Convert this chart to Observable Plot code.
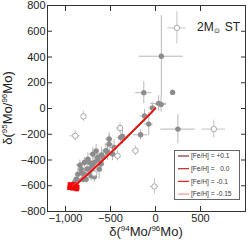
<!DOCTYPE html>
<html><head><meta charset="utf-8">
<script src="https://cdn.jsdelivr.net/npm/d3@7"></script>
<script src="https://cdn.jsdelivr.net/npm/@observablehq/plot@0.6"></script>
<style>body{margin:0;background:#fff;} svg{display:block;}</style>
</head><body><div id="chart"></div>
<script>
// grey filled points (delta94, delta95) with errors
const filledX    = [65, -130, 190, 35, 62, -34, -122, -75, 249, -166, -367, -386, -515, -460, -551, -642, -697, -752, -790, -680, -606, -826, -735, -862, -790, -697, -881, -807, -900, -532, -477, -515, -626, -771, -716, -840, -730, -660, -600, -700, -760, -820, -860, -640, -580, -680];
const filledY    = [406, 123, 125, 40, 32, 4, -58, -121, -160, -204, -217, -225, -277, -303, -328, -380, -354, -393, -419, -419, -432, -471, -471, -510, -510, -497, -549, -549, -575, -342, -354, -237, -471, -549, -523, -440, -420, -330, -360, -450, -470, -500, -560, -400, -380, -530];
const filledXErr = [245, 90, 20, 90, 60, 40, 50, 50, 190, 80, 40, 40, 50, 40, 50, 50, 40, 40, 40, 50, 40, 40, 40, 30, 40, 40, 30, 30, 30, 40, 40, 40, 40, 30, 40, 40, 40, 40, 50, 40, 40, 30, 30, 40, 40, 40];
const filledYErr = [315, 85, 20, 60, 60, 40, 50, 90, 115, 40, 60, 40, 70, 60, 50, 50, 50, 50, 40, 60, 60, 40, 50, 40, 40, 50, 30, 30, 30, 60, 50, 50, 80, 30, 40, 40, 40, 50, 60, 40, 40, 40, 30, 50, 60, 40];
// open points
const openX    = [238, 648, -801, -892, -394, -221, -422, -12, -680];
const openY    = [626, -160, -61, -212, -152, -328, -367, -606, -505];
const openXErr = [100, 130, 20, 60, 40, 40, 40, 50, 30];
const openYErr = [125, 70, 40, 40, 40, 40, 40, 60, 30];
// red squares
const sqX = [-930, -900, -880, -950, -920, -870, -940, -900, -910, -955, -875];
const sqY = [-600, -610, -595, -590, -620, -612, -610, -590, -605, -615, -625];
// model lines
const lineX = [-920, -880, -820, -750, -650, -550, -450, -350, -250, -150, -50, 0];
const fehLabels = ["[Fe/H] = +0.1", "[Fe/H] =\u00a0\u00a0\u00a00.0", "[Fe/H] = -0.1", "[Fe/H] = -0.15"];
const fehColors = ["#8b3030", "#b52a2a", "#ee1c1c", "#f39090"];
const lineYp01  = [-605, -588, -552, -508, -444, -378, -312, -245, -175, -105, -35, 2];
const lineY00   = [-607, -590, -554, -510, -446, -380, -313, -246, -176, -106, -36, 1];
const lineYm01  = [-603, -586, -550, -506, -442, -376, -310, -243, -173, -103, -33, 4];
const lineYm015 = [-600, -582, -546, -502, -438, -372, -306, -239, -170, -100, -30, 6];
const xTicks = [-1000, -500, 0, 500];
const yTicks = [-800, -600, -400, -200, 0, 200, 400, 600, 800];

const filled = filledX.map((x, i) => ({x, y: filledY[i], ex: filledXErr[i], ey: filledYErr[i]}));
const open = openX.map((x, i) => ({x, y: openY[i], ex: openXErr[i], ey: openYErr[i]}));
const squares = sqX.map((x, i) => ({x, y: sqY[i]}));
const seriesY = [lineYp01, lineY00, lineYm015, lineYm01];
const seriesIdx = [0, 1, 3, 2];
const lines = seriesY.flatMap((ys, k) => lineX.map((x, i) => ({x, y: ys[i], s: fehLabels[seriesIdx[k]], c: k === 3 ? "#ff0000" : fehColors[seriesIdx[k]]})));
const blank = () => "";

const errMarks = (data, color) => [
  Plot.ruleY(data, {y: "y", x1: d => d.x - d.ex, x2: d => d.x + d.ex, stroke: color, strokeWidth: 1}),
  Plot.ruleX(data, {x: "x", y1: d => d.y - d.ey, y2: d => d.y + d.ey, stroke: color, strokeWidth: 1})
];

const chart = Plot.plot({
  width: 249, height: 240,
  marginLeft: 47, marginRight: 4, marginTop: 5, marginBottom: 29,
  style: {fontFamily: "'Liberation Sans', Arial, sans-serif", fontSize: "11px", background: "white", color: "#222"},
  x: {domain: [-1200, 1000]},
  y: {domain: [-800, 800]},
  marks: [
    ...errMarks(open, "#c4c4c4"),
    ...errMarks(filled, "#b8b8b8"),
    Plot.dot(filled, {x: "x", y: "y", r: 2.7, fill: "#8c8c8c"}),
    Plot.dot(open, {x: "x", y: "y", r: 2.7, fill: "white", stroke: "#a8a8a8", strokeWidth: 1}),
    Plot.dot(squares, {x: "x", y: "y", symbol: "square", r: 2.6, fill: "#ff0000"}),
    Plot.line(lines, {x: "x", y: "y", z: "s", stroke: "c", strokeWidth: 1.4}),
    Plot.axisX(xTicks, {anchor: "bottom", tickSize: 0, tickPadding: 3, label: null, color: "#222"}),
    Plot.axisX(xTicks, {anchor: "bottom", tickSize: -5, tickFormat: blank, label: null, color: "#333"}),
    Plot.axisX(xTicks, {anchor: "top", tickSize: -5, tickFormat: blank, label: null, color: "#333"}),
    Plot.axisY(yTicks, {anchor: "left", tickSize: 0, tickPadding: 2, label: null, color: "#222"}),
    Plot.axisY(yTicks, {anchor: "left", tickSize: -5, tickFormat: blank, label: null, color: "#333"}),
    Plot.axisY(yTicks, {anchor: "right", tickSize: -5, tickFormat: blank, label: null, color: "#333"}),
    Plot.frame({stroke: "#333", strokeWidth: 1})
  ]
});
document.getElementById("chart").append(chart);

const svg = d3.select(chart);
const ff = "'Liberation Sans', Arial, sans-serif";
function isoLabel(g, a, b) {
  g.append("tspan").text("δ(");
  g.append("tspan").attr("dy", -5).attr("font-size", 8).text(a);
  g.append("tspan").attr("dy", 5).text("Mo/");
  g.append("tspan").attr("dy", -5).attr("font-size", 8).text(b);
  g.append("tspan").attr("dy", 5).text("Mo)");
}
const xl = svg.append("text").attr("x", 146).attr("y", 236).attr("text-anchor", "middle")
  .attr("font-family", ff).attr("font-size", 13).attr("fill", "#222");
isoLabel(xl, "94", "96");
const yl = svg.append("text").attr("transform", "translate(12,108) rotate(-90)").attr("text-anchor", "middle")
  .attr("font-family", ff).attr("font-size", 13).attr("fill", "#222");
isoLabel(yl, "95", "96");

const tl = svg.append("text").attr("x", 240).attr("y", 31).attr("text-anchor", "end")
  .attr("font-family", ff).attr("font-size", 12).attr("fill", "#222");
tl.append("tspan").text("2M");
tl.append("tspan").attr("dy", 2).attr("font-size", 7).text("⊙");
tl.append("tspan").attr("dy", -2).attr("dx", 5).text("ST");

const lg = svg.append("g");
lg.append("rect").attr("x", 174.5).attr("y", 150.5).attr("width", 65).attr("height", 49)
  .attr("fill", "white").attr("stroke", "#666").attr("stroke-width", 1);
fehLabels.forEach((t, i) => {
  const yy = 156 + i * 12.7;
  lg.append("line").attr("x1", 178).attr("x2", 189).attr("y1", yy).attr("y2", yy)
    .attr("stroke", fehColors[i]).attr("stroke-width", 1.2);
  lg.append("text").attr("x", 191).attr("y", yy + 2.3).attr("text-anchor", "start")
    .attr("font-family", ff).attr("font-size", 6.6).attr("fill", "#333").text(t);
});
</script></body></html>
